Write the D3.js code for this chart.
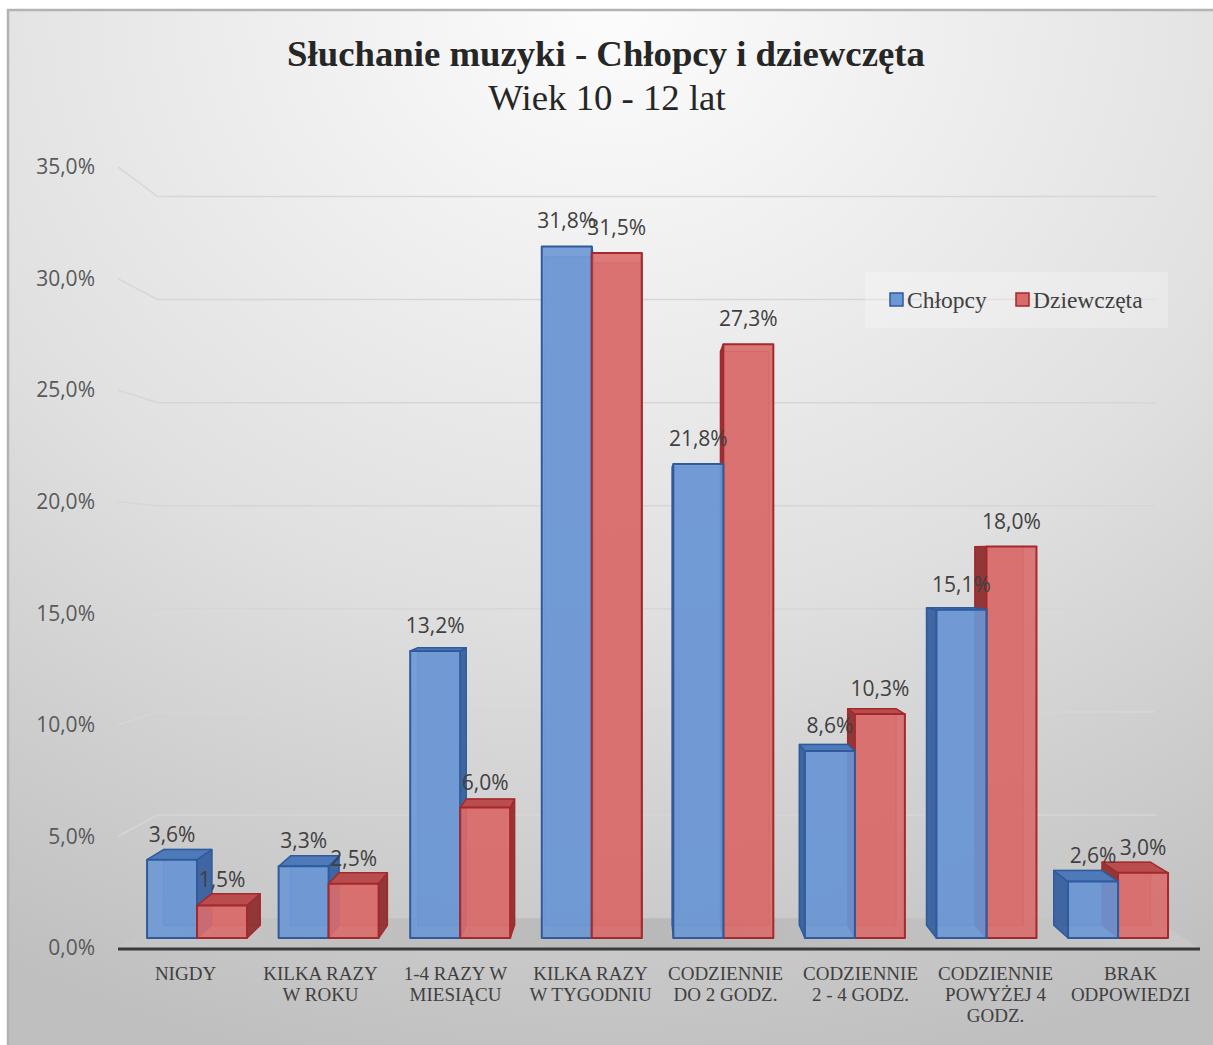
<!DOCTYPE html>
<html>
<head>
<meta charset="utf-8">
<script src="https://cdn.jsdelivr.net/npm/d3@7"></script>
<style>
  html, body { margin: 0; padding: 0; background: #fff; }
  svg { display: block; }
</style>
</head>
<body>
<div id="chart"></div>
<script>
(() => {

// data
const categories = [
  ["NIGDY"],
  ["KILKA RAZY", "W ROKU"],
  ["1-4 RAZY W", "MIESIĄCU"],
  ["KILKA RAZY", "W TYGODNIU"],
  ["CODZIENNIE", "DO 2 GODZ."],
  ["CODZIENNIE", "2 - 4 GODZ."],
  ["CODZIENNIE", "POWYŻEJ 4", "GODZ."],
  ["BRAK", "ODPOWIEDZI"]
];
const seriesNames = ["Chłopcy", "Dziewczęta"];
const chlopcy    = [3.6, 3.3, 13.2, 31.8, 21.8, 8.6, 15.1, 2.6];
const dziewczeta = [1.5, 2.5, 6.0, 31.5, 27.3, 10.3, 18.0, 3.0];
const yTicks = [0, 5, 10, 15, 20, 25, 30, 35];

const W = 1213, H = 1045;

// fake 3d: vanishing point + depth fractions
const vp = {x: 640, y: 555};
const kWall = 0.076, kFront = 0.0254, kDepth = 0.0325;
const proj = (x, y, k) => [x + k * (vp.x - x), y + k * (vp.y - y)];
const poly = pts => "M" + pts.map(p => p.join(",")).join("L") + "Z";

const colors = [
  {front: "#6b97d4", stroke: "#2f5b9c", side: "#3b629f", top: "#4f7aba"},
  {front: "#d96b6b", stroke: "#a3292d", side: "#8e3133", top: "#b94d4d"}
];

const svg = d3.select("#chart").append("svg")
    .attr("width", W)
    .attr("height", H);

const defs = svg.append("defs");
const bg = defs.append("radialGradient")
    .attr("id", "bg")
    .attr("cx", "50%").attr("cy", "0%").attr("r", "105%");
bg.append("stop").attr("offset", 0).attr("stop-color", "#fcfcfc");
bg.append("stop").attr("offset", 0.55).attr("stop-color", "#e0e0e0");
bg.append("stop").attr("offset", 1).attr("stop-color", "#bfbfbf");

const floorGrad = defs.append("linearGradient")
    .attr("id", "floor").attr("x1", 0).attr("x2", 1).attr("y1", 0).attr("y2", 0);
floorGrad.append("stop").attr("offset", 0).attr("stop-color", "#c6c6c6");
floorGrad.append("stop").attr("offset", 0.5).attr("stop-color", "#b9b9b9");
floorGrad.append("stop").attr("offset", 1).attr("stop-color", "#c8c8c8");

svg.append("rect")
    .attr("x", 8).attr("y", 10)
    .attr("width", W - 8).attr("height", H - 10)
    .attr("fill", "url(#bg)");
svg.append("path")
    .attr("d", `M8,${H}L8,10L${W},10`)
    .attr("fill", "none")
    .attr("stroke", "#b3b3b3")
    .attr("stroke-width", 2.5);

// scales
const x = d3.scaleBand()
    .domain(d3.range(categories.length))
    .range([118, 1198])
    .padding(0);
const barW = 51.3;
const xs = d3.scaleBand()
    .domain([0, 1])
    .range([(x.bandwidth() - 2 * barW) / 2, (x.bandwidth() + 2 * barW) / 2]);
const y = d3.scaleLinear()
    .domain([0, 35])
    .range([948, 167]);

// floor
const x0 = x.range()[0], x1 = x.range()[1], yb = y(0);
svg.append("path")
    .attr("d", poly([proj(x0, yb, 0), proj(x1, yb, 0), proj(x1, yb, kWall), proj(x0, yb, kWall)]))
    .attr("fill", "url(#floor)");

// gridlines: left wall diagonal + back wall
const grid = svg.append("g")
    .attr("fill", "none")
    .attr("stroke", "#d6d6d6")
    .attr("stroke-width", 1.5);
yTicks.filter(t => t > 0).forEach(t => {
  const a = proj(x0, y(t), 0), b = proj(x0, y(t), kWall), c = proj(x1, y(t), kWall);
  grid.append("path").attr("d", `M${a}L${b}L${c}`);
});

// y tick labels
svg.append("g")
  .selectAll("text")
  .data(yTicks)
  .join("text")
    .attr("x", 95)
    .attr("y", d => y(d))
    .attr("dy", "0.35em")
    .attr("text-anchor", "end")
    .attr("font-family", "Open Sans, sans-serif")
    .attr("font-size", 21)
    .attr("fill", "#595959")
    .text(d => d3.format(".1f")(d).replace(".", ",") + "%");

// bars
const bars = [];
[chlopcy, dziewczeta].forEach((vals, s) => {
  vals.forEach((v, i) => {
    const xa = x(i) + xs(s), xb = xa + barW;
    bars.push({s, i, v, xa, xb, c: (xa + xb) / 2});
  });
});
// farther from centre drawn first
bars.sort((a, b) => Math.abs(b.c - vp.x) - Math.abs(a.c - vp.x));

const k0 = kFront, k1 = kFront + kDepth;
const barG = svg.append("g").attr("stroke-linejoin", "round");
bars.forEach(d => {
  const col = colors[d.s];
  const yt = y(d.v);
  const g = barG.append("g");
  // back face (seen through)
  g.append("path")
      .attr("d", poly([proj(d.xa, yt, k1), proj(d.xb, yt, k1), proj(d.xb, yb, k1), proj(d.xa, yb, k1)]))
      .attr("fill", col.front).attr("fill-opacity", 0.5)
      .attr("stroke", col.stroke).attr("stroke-opacity", 0.5).attr("stroke-width", 1.5);
  // side face towards centre
  const sx = d.c < vp.x ? d.xb : d.xa;
  g.append("path")
      .attr("d", poly([proj(sx, yt, k0), proj(sx, yt, k1), proj(sx, yb, k1), proj(sx, yb, k0)]))
      .attr("fill", col.side).attr("fill-opacity", 0.95)
      .attr("stroke", col.stroke).attr("stroke-width", 1.5);
  // top face
  if (yt > vp.y) {
    g.append("path")
        .attr("d", poly([proj(d.xa, yt, k0), proj(d.xb, yt, k0), proj(d.xb, yt, k1), proj(d.xa, yt, k1)]))
        .attr("fill", col.top)
        .attr("stroke", col.stroke).attr("stroke-width", 1.5);
  }
  // front face
  g.append("path")
      .attr("d", poly([proj(d.xa, yt, k0), proj(d.xb, yt, k0), proj(d.xb, yb, k0), proj(d.xa, yb, k0)]))
      .attr("fill", col.front).attr("fill-opacity", 0.9)
      .attr("stroke", col.stroke).attr("stroke-width", 2);
});

// axis line
svg.append("line")
    .attr("x1", x0).attr("x2", x1 + 2)
    .attr("y1", yb + 1).attr("y2", yb + 1)
    .attr("stroke", "#3a3a3a")
    .attr("stroke-width", 3);

// data labels
svg.append("g")
  .selectAll("text")
  .data(bars)
  .join("text")
    .attr("x", d => proj(d.c, y(d.v), k0)[0])
    .attr("y", d => proj(d.c, y(d.v), k0)[1] - 18)
    .attr("text-anchor", "middle")
    .attr("font-family", "Open Sans, sans-serif")
    .attr("font-size", 21)
    .attr("fill", "#404040")
    .text(d => d3.format(".1f")(d.v).replace(".", ",") + "%");

// category labels
const catG = svg.append("g")
    .attr("font-family", "Liberation Serif, serif")
    .attr("font-size", 19)
    .attr("fill", "#404040");
categories.forEach((lines, i) => {
  const cx = x(i) + x.bandwidth() / 2;
  const t = catG.append("text")
      .attr("text-anchor", "middle")
      .attr("transform", `translate(${cx},0)`);
  lines.forEach((ln, j) => {
    t.append("tspan").attr("x", 0).attr("y", 980 + j * 21).text(ln);
  });
});

// title
svg.append("text")
    .attr("transform", "translate(606,66) scale(1.05,1)")
    .attr("text-anchor", "middle")
    .attr("font-family", "Liberation Serif, serif")
    .attr("font-weight", "bold")
    .attr("font-size", 35)
    .attr("fill", "#262626")
    .text("Słuchanie muzyki - Chłopcy i dziewczęta");
svg.append("text")
    .attr("transform", "translate(607,110) scale(1.05,1)")
    .attr("text-anchor", "middle")
    .attr("font-family", "Liberation Serif, serif")
    .attr("font-size", 35)
    .attr("fill", "#262626")
    .text("Wiek 10 - 12 lat");

// legend
const leg = svg.append("g");
leg.append("rect")
    .attr("x", 865).attr("y", 272)
    .attr("width", 303).attr("height", 56)
    .attr("fill", "#ffffff").attr("fill-opacity", 0.25);
const legX = [890, 1016];
seriesNames.forEach((name, s) => {
  leg.append("rect")
      .attr("x", legX[s]).attr("y", 293)
      .attr("width", 13).attr("height", 13)
      .attr("fill", colors[s].front)
      .attr("stroke", colors[s].stroke).attr("stroke-width", 1.5);
  leg.append("text")
      .attr("x", legX[s] + 17)
      .attr("y", 308)
      .attr("font-family", "Liberation Serif, serif")
      .attr("font-size", 23.5)
      .attr("fill", "#404040")
      .text(name);
});

})();
</script>
</body>
</html>
